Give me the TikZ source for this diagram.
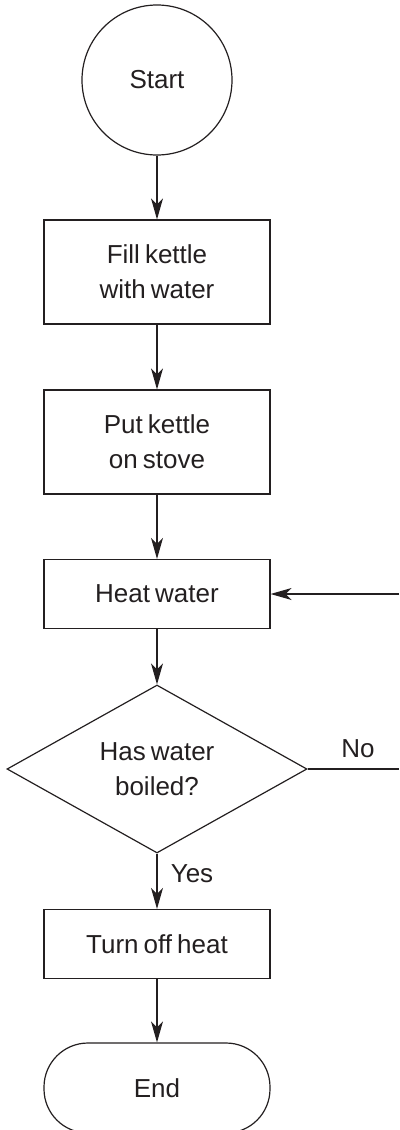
\documentclass[tikz,border=0pt]{standalone}
\usepackage{fontspec}
\setmainfont[WordSpace=0.7]{Liberation Sans}
\usetikzlibrary{shapes.geometric,arrows.meta}
\definecolor{ink}{HTML}{231F20}
\begin{document}
\begin{tikzpicture}[x=1pt,y=1pt,
  every node/.style={font=\fontsize{26}{35}\selectfont, text=ink},
  shp/.style={draw=ink, line width=1.2pt, inner sep=0pt, align=center},
  procbox/.style={shp, rectangle, minimum width=226pt},
  flow/.style={draw=ink, line width=1.2pt, -{Stealth[length=21pt,width=12pt,inset=6pt]}},
  plain/.style={draw=ink, line width=1.2pt}
]
\useasboundingbox (0,0) rectangle (399,-1130);
\node[shp, circle, minimum size=150pt] (start) at (157,-80) {Start};
\node[procbox, minimum height=104pt] (fill) at (157,-272) {Fill kettle\\with water};
\node[procbox, minimum height=104pt] (put) at (157,-442) {Put kettle\\on stove};
\node[procbox, minimum height=69pt] (heat) at (157,-594) {Heat water};
\node[shp, diamond, minimum width=300pt, minimum height=149pt] (dec) at (157,-769) {Has water\\boiled?};
\node[procbox, minimum height=69pt] (off) at (157,-944) {Turn off heat};
\node[procbox, rounded corners=44pt, minimum height=90pt] (end) at (157,-1088) {End};
\coordinate (noR) at (399,-769);
\coordinate (heR) at (399,-594);
\node (yes) at (192,-874) {Yes};
\node (no) at (358,-749) {No};
\draw[flow] (start) -- (fill);
\draw[flow] (fill) -- (put);
\draw[flow] (put) -- (heat);
\draw[flow] (heat) -- (dec);
\draw[flow] (dec) -- (off);
\draw[flow] (off) -- (end);
\draw[plain] (dec.east) -- (noR);
\draw[flow] (heR) -- (heat.east);
\end{tikzpicture}
\end{document}
